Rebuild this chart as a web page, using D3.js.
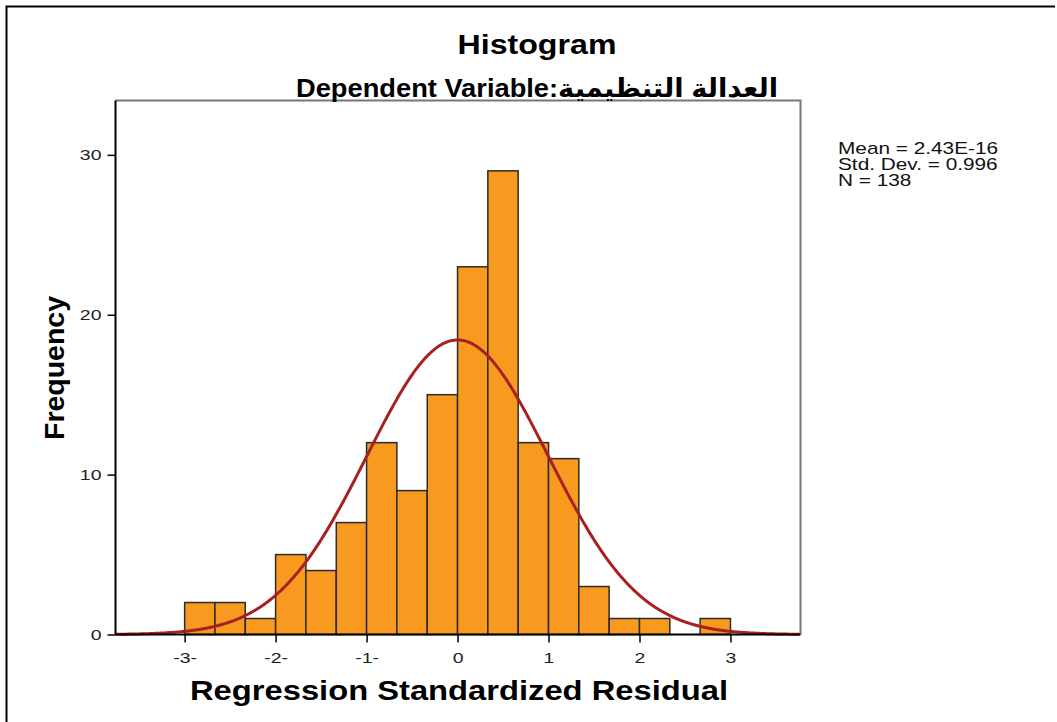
<!DOCTYPE html>
<html>
<head>
<meta charset="utf-8">
<script src="https://cdn.jsdelivr.net/npm/d3@7"></script>
<style>
  body { margin: 0; background: #fff; }
  svg text { font-family: "Liberation Sans", Arial, "DejaVu Sans", sans-serif; }
</style>
</head>
<body>
<svg id="chart" width="1057" height="722"></svg>
<script>
// histogram bins (lower edge, in standardized residual units) and counts
var binStarts = [-3, -2.667, -2.333, -2, -1.667, -1.333, -1, -0.667, -0.333,
                 0, 0.333, 0.667, 1, 1.333, 1.667, 2, 2.333, 2.667];
var counts = [2, 2, 1, 5, 4, 7, 12, 9, 15, 23, 29, 12, 11, 3, 1, 1, 0, 1];
var binWidth = 1 / 3;

// summary statistics shown next to the chart
var statMean = 2.43e-16;
var statSd = 0.996;
var statN = 138;
var statLines = ["Mean = 2.43E-16", "Std. Dev. = 0.996", "N = 138"];

var xTicks = [-3, -2, -1, 0, 1, 2, 3];
var xTickLabels = ["-3-", "-2-", "-1-", "0", "1", "2", "3"];
var yTicks = [0, 10, 20, 30];

var stretch = 1.3;   // the screenshot's text is a little wide

var svg = d3.select("#chart");

// outer frame (top + left edges only, like the screenshot)
svg.append("path")
    .attr("d", "M6.5,722 V6.5 H1055")
    .attr("fill", "none")
    .attr("stroke", "#000")
    .attr("stroke-width", 2);

var plot = {left: 115.5, right: 800.5, top: 100.5, bottom: 634.5};

var x = d3.scaleLinear()
    .domain([-3.76, 3.77])
    .range([plot.left, plot.right]);
var y = d3.scaleLinear()
    .domain([0, 33.4])
    .range([plot.bottom, plot.top]);

// plot frame: grey top/right
svg.append("path")
    .attr("d", "M" + plot.left + "," + plot.top + " H" + plot.right + " V" + plot.bottom)
    .attr("fill", "none")
    .attr("stroke", "#777")
    .attr("stroke-width", 2);

// bars (empty bins get no bar)
var bins = counts.map(function(c, i) { return {x0: binStarts[i], n: c}; })
    .filter(function(b) { return b.n > 0; });
svg.selectAll(".bar")
    .data(bins)
    .enter().append("rect")
    .attr("class", "bar")
    .attr("x", function(d) { return x(d.x0); })
    .attr("y", function(d) { return y(d.n); })
    .attr("width", x(binWidth) - x(0))
    .attr("height", function(d) { return y(0) - y(d.n); })
    .attr("fill", "#f89a1f")
    .attr("stroke", "#2b2b2b")
    .attr("stroke-width", 1.5);

// fitted normal curve from the stated mean / sd / N
var curvePts = d3.range(-3.76, 3.771, 0.02).map(function(v) {
    var z = (v - statMean) / statSd;
    return [v, statN * binWidth * Math.exp(-0.5 * z * z) / (statSd * Math.sqrt(2 * Math.PI))];
});
svg.append("path")
    .datum(curvePts)
    .attr("fill", "none")
    .attr("stroke", "#a8201f")
    .attr("stroke-width", 3)
    .attr("d", d3.line()
        .x(function(d) { return x(d[0]); })
        .y(function(d) { return y(d[1]); }));

// axes
var xAxis = svg.append("g")
    .attr("transform", "translate(0," + plot.bottom + ")")
    .call(d3.axisBottom(x)
        .tickValues(xTicks)
        .tickSize(8)
        .tickFormat(function(d, i) { return xTickLabels[i]; }));
var yAxis = svg.append("g")
    .attr("transform", "translate(" + plot.left + ",0)")
    .call(d3.axisLeft(y)
        .tickValues(yTicks)
        .tickSize(8));
[xAxis, yAxis].forEach(function(a) {
    a.select(".domain").attr("stroke", "#000").attr("stroke-width", 2);
    a.selectAll(".tick line").attr("stroke", "#000").attr("stroke-width", 1.5);
    a.selectAll(".tick text")
        .attr("fill", "#222")
        .style("font-size", "15px");
});
xAxis.select(".domain").attr("d", "M" + plot.left + ",0 H" + plot.right);
yAxis.select(".domain").attr("d", "M0," + plot.top + " V" + plot.bottom);
xAxis.selectAll(".tick text")
    .attr("y", 0).attr("dy", 0)
    .attr("transform", "translate(0,28) scale(" + stretch + ",1)");
yAxis.selectAll(".tick text")
    .attr("x", 0)
    .attr("transform", "translate(-14,0) scale(" + stretch + ",1)");

// titles
svg.append("text")
    .attr("x", 537).attr("y", 54)
    .attr("text-anchor", "middle")
    .attr("textLength", 159).attr("lengthAdjust", "spacingAndGlyphs")
    .style("font-size", "27px").style("font-weight", "bold")
    .text("Histogram");
svg.append("text")
    .attr("x", 537).attr("y", 97)
    .attr("text-anchor", "middle")
    .attr("direction", "ltr")
    .attr("textLength", 482).attr("lengthAdjust", "spacingAndGlyphs")
    .style("font-size", "26px").style("font-weight", "bold")
    .text("Dependent Variable:العدالة التنظيمية");

svg.append("text")
    .attr("transform", "translate(64,368) rotate(-90)")
    .attr("text-anchor", "middle")
    .attr("textLength", 144).attr("lengthAdjust", "spacingAndGlyphs")
    .style("font-size", "28px").style("font-weight", "bold")
    .text("Frequency");
svg.append("text")
    .attr("x", 459).attr("y", 700)
    .attr("text-anchor", "middle")
    .attr("textLength", 538).attr("lengthAdjust", "spacingAndGlyphs")
    .style("font-size", "28px").style("font-weight", "bold")
    .text("Regression Standardized Residual");

// stats block
svg.append("g").selectAll("text")
    .data(statLines)
    .enter().append("text")
    .attr("transform", function(d, i) {
        return "translate(838," + (154 + i * 16) + ") scale(1.3,1)";
    })
    .style("font-size", "16px")
    .attr("fill", "#111")
    .text(function(d) { return d; });
</script>
</body>
</html>
